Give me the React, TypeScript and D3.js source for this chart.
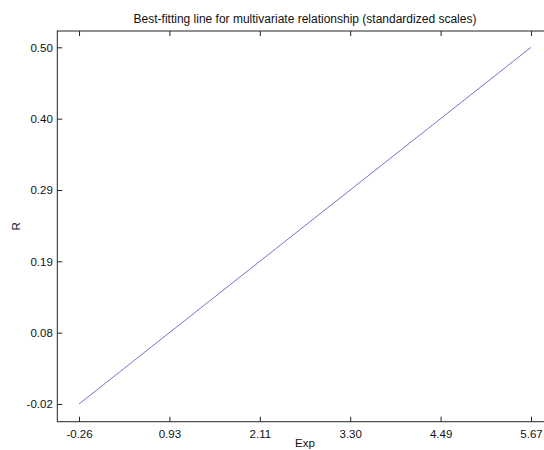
import React, { useEffect, useRef } from 'react';
import * as d3 from 'd3';

// best-fitting line endpoints (standardized scales)
const lineX = [-0.26, 5.67];
const lineY = [-0.02, 0.5];

const xTickValues = [-0.26, 0.926, 2.112, 3.298, 4.484, 5.67];
const xTickLabels = ['-0.26', '0.93', '2.11', '3.30', '4.49', '5.67'];
const yTickValues = [-0.02, 0.084, 0.188, 0.292, 0.396, 0.5];
const yTickLabels = ['-0.02', '0.08', '0.19', '0.29', '0.40', '0.50'];

const title = 'Best-fitting line for multivariate relationship (standardized scales)';
const xLabel = 'Exp';
const yLabel = 'R';

const App = () => {
  const svgRef = useRef<SVGSVGElement>(null);

  useEffect(() => {
    const width = 544;
    const height = 450;
    const left = 57.3;
    const right = 552.7;
    const top = 31;
    const bottom = 421.7;
    const font = 'Liberation Sans, Arial, sans-serif';

    const svg = d3.select(svgRef.current);
    svg.selectAll('*').remove();
    svg.attr('width', width).attr('height', height);

    svg.append('rect').attr('width', width).attr('height', height).attr('fill', '#fff');

    const x = d3.scaleLinear().domain([-0.545, 5.955]).range([left, right]);
    const y = d3.scaleLinear().domain([-0.0458, 0.5238]).range([bottom, top]);

    const styleAxis = (g: any) => {
      g.select('.domain').remove();
      g.selectAll('line').attr('stroke', '#222').attr('stroke-width', 1);
      g.selectAll('text')
        .attr('fill', '#111')
        .style('font-family', font)
        .style('font-size', '11.5px');
    };

    // bottom axis
    svg
      .append('g')
      .attr('transform', `translate(0,${bottom})`)
      .call(
        d3
          .axisBottom(x)
          .tickValues(xTickValues)
          .tickFormat((_d, i) => xTickLabels[i])
          .tickSizeInner(-5)
          .tickSizeOuter(0)
          .tickPadding(8.5)
      )
      .call(styleAxis);

    // top axis (ticks only)
    svg
      .append('g')
      .attr('transform', `translate(0,${top})`)
      .call(
        d3
          .axisTop(x)
          .tickValues(xTickValues)
          .tickFormat(() => '')
          .tickSizeInner(-5)
          .tickSizeOuter(0)
      )
      .call(styleAxis);

    // left axis
    svg
      .append('g')
      .attr('transform', `translate(${left},0)`)
      .call(
        d3
          .axisLeft(y)
          .tickValues(yTickValues)
          .tickFormat((_d, i) => yTickLabels[i])
          .tickSizeInner(-5)
          .tickSizeOuter(0)
          .tickPadding(4.5)
      )
      .call(styleAxis);

    // axes box
    svg
      .append('rect')
      .attr('x', left)
      .attr('y', top)
      .attr('width', right - left)
      .attr('height', bottom - top)
      .attr('fill', 'none')
      .attr('stroke', '#222')
      .attr('stroke-width', 1);

    const line = d3
      .line<number>()
      .x((d) => x(d))
      .y((_d, i) => y(lineY[i]));

    svg
      .append('path')
      .datum(lineX)
      .attr('d', line)
      .attr('fill', 'none')
      .attr('stroke', '#5050c0')
      .attr('stroke-width', 0.8);

    svg
      .append('text')
      .attr('x', (left + right) / 2)
      .attr('y', 23)
      .attr('text-anchor', 'middle')
      .style('font-family', font)
      .style('font-size', '12px')
      .attr('fill', '#111')
      .text(title);

    svg
      .append('text')
      .attr('x', (left + right) / 2)
      .attr('y', 446.5)
      .attr('text-anchor', 'middle')
      .style('font-family', font)
      .style('font-size', '11.5px')
      .attr('fill', '#111')
      .text(xLabel);

    svg
      .append('text')
      .attr('transform', `translate(19.5,${(top + bottom) / 2}) rotate(-90)`)
      .attr('text-anchor', 'middle')
      .style('font-family', font)
      .style('font-size', '11.5px')
      .attr('fill', '#111')
      .text(yLabel);
  }, []);

  return (
    <div style={{ position: 'absolute', left: 0, top: 0 }}>
      <svg ref={svgRef}></svg>
    </div>
  );
};

export default App;
